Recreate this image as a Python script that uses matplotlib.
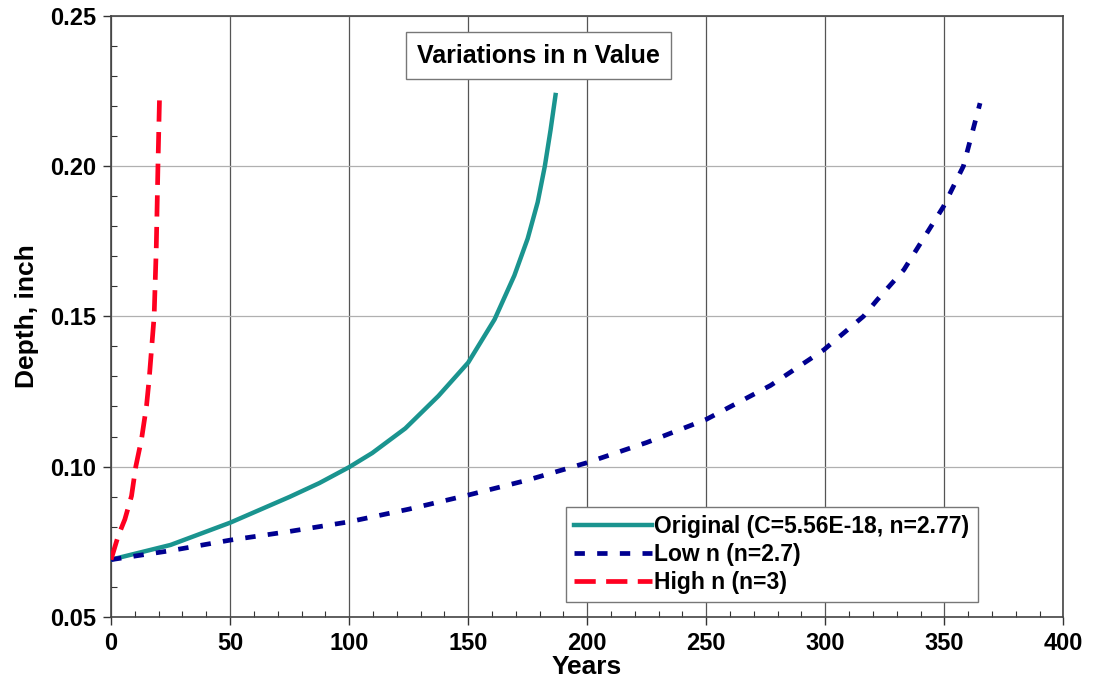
import matplotlib
matplotlib.use('Agg')
import matplotlib.pyplot as plt
from matplotlib.ticker import MultipleLocator

plt.rcParams['font.family'] = ['Liberation Sans', 'DejaVu Sans']
plt.rcParams['font.weight'] = 'bold'

# data (years, depth in inch)
orig_years = [0, 25, 50, 75, 87.5, 100, 109.7, 123.6, 137.5, 150, 161.1, 169.4, 175, 179.2, 182.2, 184.6, 186.7]
orig_depth = [0.069, 0.0739, 0.0813, 0.0899, 0.0945, 0.0998, 0.1045, 0.1127, 0.1235, 0.1346, 0.149, 0.1636,
              0.1759, 0.188, 0.200, 0.212, 0.2237]

low_years = [0, 25, 50, 75, 100, 125, 150, 175, 200, 225, 250, 277, 299.3, 316, 321.8, 333, 349.6, 358, 365]
low_depth = [0.069, 0.072, 0.0755, 0.0784, 0.0816, 0.0858, 0.0905, 0.0955, 0.1013, 0.108, 0.1157, 0.127,
             0.1388, 0.150, 0.1555, 0.1655, 0.1865, 0.200, 0.221]

high_years = [0, 3.0, 5.8, 8.6, 10.4, 12.8, 14.9, 16.0, 17.1, 18.1, 19.0, 19.7, 20.4]
high_depth = [0.069, 0.0769, 0.0824, 0.0902, 0.100, 0.1091, 0.1202, 0.129, 0.140, 0.150, 0.173, 0.200, 0.224]

labels = ['Original (C=5.56E-18, n=2.77)', 'Low n (n=2.7)', 'High n (n=3)']

fig = plt.figure(figsize=(10.94, 6.90), dpi=100)
ax = fig.add_axes([0.1015, 0.1062, 0.8705, 0.8706])

ax.plot(orig_years, orig_depth, color='#1a948f', lw=3.2, label=labels[0], zorder=3)
ax.plot(low_years, low_depth, color='#000090', lw=3.4, dashes=(2.2, 2.6), label=labels[1], zorder=3)
ax.plot(high_years, high_depth, color='#ff0020', lw=3.4, dashes=(4.5, 2.2), label=labels[2], zorder=3)

ax.set_xlim(0, 400)
ax.set_ylim(0.05, 0.25)
ax.xaxis.set_major_locator(MultipleLocator(50))
ax.xaxis.set_minor_locator(MultipleLocator(10))
ax.yaxis.set_major_locator(MultipleLocator(0.05))
ax.yaxis.set_minor_locator(MultipleLocator(0.01))
ax.yaxis.set_major_formatter(plt.FormatStrFormatter('%.2f'))

ax.tick_params(which='major', direction='out', length=6, width=1, labelsize=17, color='#333333', pad=5)
ax.tick_params(which='minor', direction='in', length=4, width=0.8, color='#333333')

ax.grid(axis='x', which='major', color='#555555', lw=0.9)
ax.grid(axis='y', which='major', color='#b0b0b0', lw=0.9)
ax.set_axisbelow(True)
for s in ax.spines.values():
    s.set_color('#444444')
    s.set_linewidth(1.2)

ax.set_xlabel('Years', fontsize=19, fontweight='bold', labelpad=0)
ax.set_ylabel('Depth, inch', fontsize=19, fontweight='bold', labelpad=8)

ax.text(0.449, 0.934, 'Variations in n Value', transform=ax.transAxes, ha='center', va='center',
        fontsize=18, fontweight='bold',
        bbox=dict(boxstyle='square,pad=0.45', fc='white', ec='#777777', lw=1))

leg = ax.legend(loc='lower left', bbox_to_anchor=(0.478, 0.0245), borderaxespad=0, fontsize=16.5,
                handlelength=3.4, handletextpad=0.1, borderpad=0.35, labelspacing=0.22, fancybox=False,
                framealpha=1, edgecolor='#777777')
for t in leg.get_texts():
    t.set_fontweight('bold')

plt.savefig('out.png', dpi=100)
